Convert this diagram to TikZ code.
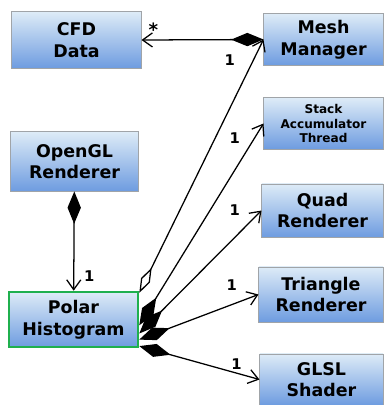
\documentclass[tikz,border=0pt]{standalone}
\usepackage{fontspec}
\setmainfont{DejaVu Sans}
\usepackage{xcolor}
\usepackage{tikz}
\usetikzlibrary{arrows.meta}

\definecolor{boxtop}{HTML}{DDEBF7}
\definecolor{boxbottom}{HTML}{6E9CE0}
\definecolor{boxline}{HTML}{A0A4A8}
\definecolor{polargreen}{HTML}{1FB04E}

\begin{document}
\begin{tikzpicture}[x=0.025cm,y=-0.025cm,line width=0.9pt,
    cls/.style={rectangle,draw=boxline,line width=0.7pt,top color=boxtop,bottom color=boxbottom,
        align=center,inner sep=0pt,font=\bfseries\fontsize{12.4}{15.4}\selectfont},
    comp/.style={{Diamond[length=23pt,width=9.5pt]}-{Straight Barb[length=7pt,width=10pt]}},
    agg/.style={{Diamond[open,length=20pt,width=7pt]}-{Straight Barb[length=7pt,width=10pt]}},
    mult/.style={font=\bfseries\fontsize{10.5}{11}\selectfont,inner sep=0pt}]

    \useasboundingbox (0,0) rectangle (385,405);

    \node[cls,minimum width=3.225cm,minimum height=1.4cm] at (76.5,40) (cfd) {CFD\\Data};
    \node[cls,minimum width=2.975cm,minimum height=1.275cm] at (323.5,39.5) (mesh) {Mesh\\Manager};
    \node[cls,minimum width=2.975cm,minimum height=1.275cm,font=\bfseries\fontsize{8.6}{10}\selectfont] at (323.5,123.5) (stack) {Stack\\Accumulator\\Thread};
    \node[cls,minimum width=3.175cm,minimum height=1.475cm] at (74.5,161.5) (opengl) {OpenGL\\Renderer};
    \node[cls,minimum width=3.025cm,minimum height=1.325cm] at (322.5,210.5) (quad) {Quad\\Renderer};
    \node[cls,minimum width=3.1cm,minimum height=1.375cm] at (321,294.5) (triangle) {Triangle\\Renderer};
    \node[cls,minimum width=3.075cm,minimum height=1.275cm] at (321.5,379.5) (glsl) {GLSL\\Shader};
    \node[cls,draw=polargreen,line width=1.8pt,minimum width=3.225cm,minimum height=1.375cm] at (73.5,319.5) (polar) {Polar\\Histogram};

    \path (mesh.west) edge[comp] node[mult,at end,xshift=8.5pt,yshift=7pt,font=\bfseries\fontsize{13}{13}\selectfont] {*} (cfd.east)
    (opengl) edge[comp] node[mult,at end,xshift=11pt,yshift=10.6pt] {1} (polar)
    (polar.22) edge[agg] node[mult,at end,xshift=-24pt,yshift=-14.5pt] {1} (mesh.west)
    (polar.-5) edge[comp] node[mult,at end,xshift=-20.5pt,yshift=-10.3pt] {1} (stack.west)
    (polar.-12) edge[comp] node[mult,at end,xshift=-19pt] {1} (quad.west)
    (polar.-17) edge[comp] node[mult,at end,xshift=-19pt,yshift=6.7pt] {1} (triangle.west)
    (polar.-22) edge[comp] node[mult,at end,xshift=-16.3pt,yshift=10.6pt] {1} (glsl.west);

\end{tikzpicture}
\end{document}
